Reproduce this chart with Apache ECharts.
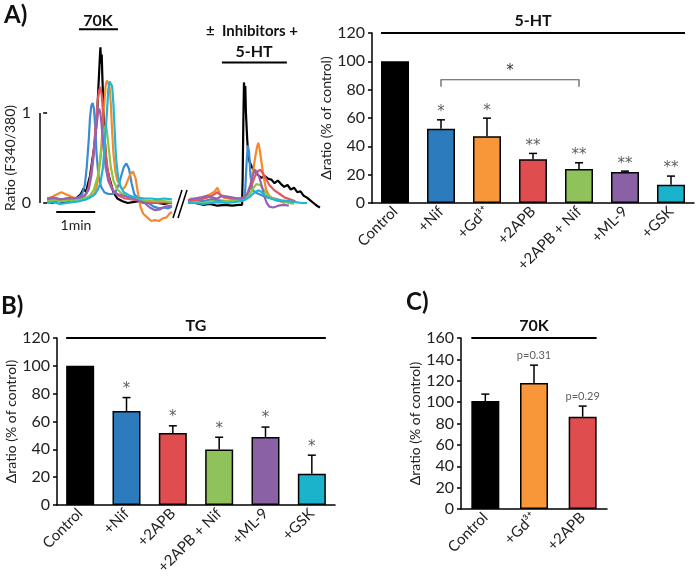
<!DOCTYPE html>
<html><head><meta charset="utf-8">
<script src="https://cdn.jsdelivr.net/npm/echarts@6/dist/echarts.min.js"></script>
<style>html,body{margin:0;padding:0;background:#fff}#c{width:700px;height:577px}</style>
</head><body><div id="c"></div>
<script>
// ---------- Panel A (left): calcium traces, [time s, ratio F340/380] ----------
const blackL = [[0,0.02],[8,0.0],[16,0.03],[24,0.01],[32,0.02],[40,0.04],[46,0.06],[52,0.1],[56,0.16],[60,0.12],[63,0.22],[66,0.3],[69,0.45],[72,0.6],[75,0.8],[77,1.0],[79,1.3],[80,1.45],[81,1.6],[82,1.73],[83,1.55],[84,1.65],[85,1.4],[86,1.2],[88,0.8],[90,0.55],[92,0.4],[95,0.3],[98,0.28],[102,0.12],[108,0.05],[116,0.02],[124,0.0],[132,0.01],[140,0.02],[150,0.0],[160,0.01],[170,0.0],[180,-0.01],[188,0.0],[192,0.0]];
const blueL = [[0,0.03],[10,0.04],[20,0.02],[30,0.05],[40,0.04],[48,0.06],[54,0.1],[58,0.2],[61,0.4],[64,0.7],[66,0.95],[68,1.08],[70,1.11],[72,1.05],[74,0.85],[76,0.55],[79,0.3],[83,0.18],[88,0.12],[94,0.1],[100,0.1],[105,0.12],[110,0.2],[114,0.3],[118,0.4],[122,0.44],[126,0.38],[130,0.22],[134,0.1],[140,0.05],[148,0.02],[156,0.0],[164,-0.04],[172,-0.06],[180,-0.05],[186,-0.06],[192,-0.04]];
const orangeL = [[0,0.05],[8,0.07],[16,0.1],[22,0.12],[28,0.1],[34,0.08],[40,0.06],[48,0.05],[56,0.05],[64,0.06],[70,0.08],[74,0.12],[78,0.25],[82,0.5],[85,0.8],[88,1.1],[90,1.3],[92,1.36],[94,1.38],[96,1.3],[98,1.1],[100,0.8],[102,0.55],[105,0.35],[108,0.25],[112,0.2],[116,0.15],[120,0.18],[124,0.25],[128,0.32],[132,0.35],[136,0.28],[140,0.1],[144,-0.05],[148,-0.12],[154,-0.16],[160,-0.2],[166,-0.19],[172,-0.2],[178,-0.17],[184,-0.16],[188,-0.12],[192,-0.1]];
const redL = [[0,0.03],[12,0.05],[24,0.04],[36,0.06],[46,0.05],[54,0.07],[60,0.1],[64,0.18],[68,0.35],[72,0.6],[75,0.9],[78,1.15],[80,1.25],[82,1.29],[84,1.2],[86,1.0],[88,0.75],[91,0.5],[94,0.32],[98,0.2],[103,0.12],[110,0.08],[120,0.05],[130,0.04],[140,0.03],[150,0.02],[160,0.01],[170,0.0],[180,0.01],[192,0.0]];
const greenL = [[0,0.02],[12,0.03],[24,0.02],[36,0.03],[48,0.04],[58,0.05],[66,0.08],[72,0.15],[78,0.3],[82,0.5],[85,0.7],[88,0.82],[90,0.86],[92,0.8],[95,0.6],[98,0.4],[102,0.25],[108,0.15],[116,0.1],[126,0.06],[136,0.04],[150,0.03],[165,0.02],[180,0.02],[192,0.01]];
const purpleL = [[0,0.05],[10,0.06],[20,0.04],[30,0.05],[40,0.05],[50,0.06],[58,0.08],[64,0.15],[68,0.3],[72,0.55],[75,0.8],[78,0.98],[80,1.05],[82,1.0],[84,0.85],[87,0.6],[90,0.4],[94,0.25],[100,0.15],[108,0.1],[118,0.08],[128,0.06],[140,0.03],[150,0.0],[158,-0.05],[166,-0.08],[174,-0.07],[182,-0.04],[192,-0.03]];
const cyanL = [[0,0.0],[10,0.01],[20,-0.01],[30,0.0],[40,0.01],[50,0.02],[60,0.04],[68,0.07],[74,0.1],[78,0.15],[82,0.22],[86,0.4],[89,0.7],[92,1.0],[94,1.25],[96,1.35],[98,1.36],[100,1.3],[102,1.1],[104,0.8],[106,0.5],[109,0.3],[113,0.18],[118,0.12],[125,0.09],[132,0.07],[140,0.06],[150,0.05],[160,0.05],[170,0.04],[180,0.05],[192,0.04]];

const blackR = [[217,0.0],[228,0.0],[240,-0.02],[250,-0.01],[262,-0.03],[274,-0.02],[285,-0.03],[295,-0.02],[300,-0.02],[301,0.3],[302,0.9],[303,1.34],[304,1.2],[305,1.3],[306,1.0],[308,0.7],[310,0.5],[312,0.45],[315,0.4],[318,0.37],[322,0.33],[326,0.3],[330,0.28],[335,0.3],[340,0.27],[345,0.26],[350,0.22],[355,0.25],[360,0.21],[365,0.18],[370,0.2],[375,0.15],[380,0.17],[385,0.12],[390,0.13],[395,0.08],[400,0.06],[405,0.03],[410,0.0],[415,-0.03],[420,-0.05]];
const blueR = [[217,0.02],[228,0.03],[240,0.02],[252,0.04],[264,0.03],[276,0.02],[288,0.03],[298,0.04],[303,0.05],[305,0.15],[307,0.45],[309,0.64],[311,0.55],[313,0.3],[316,0.15],[320,0.12],[326,0.1],[332,0.08],[340,0.06],[350,0.05],[360,0.03],[370,0.02],[380,0.01]];
const orangeR = [[217,0.03],[222,0.05],[228,0.04],[234,0.06],[240,0.05],[246,0.08],[252,0.1],[258,0.13],[262,0.17],[266,0.1],[272,0.06],[280,0.05],[288,0.04],[296,0.05],[302,0.06],[308,0.1],[313,0.2],[317,0.35],[320,0.5],[323,0.62],[325,0.67],[327,0.6],[330,0.45],[333,0.3],[337,0.15],[342,0.08],[350,0.04],[358,0.02],[366,0.0]];
const redR = [[217,0.02],[226,0.03],[236,0.04],[246,0.06],[254,0.08],[262,0.12],[268,0.08],[276,0.06],[286,0.05],[296,0.05],[304,0.06],[310,0.12],[316,0.22],[320,0.3],[324,0.35],[328,0.37],[332,0.33],[336,0.28],[342,0.2],[350,0.14],[358,0.1],[366,0.06],[374,0.04],[382,0.02]];
const greenR = [[217,0.0],[228,0.01],[240,0.0],[252,0.02],[264,0.01],[276,0.02],[288,0.02],[298,0.03],[306,0.05],[312,0.1],[318,0.17],[322,0.21],[325,0.22],[328,0.2],[332,0.16],[338,0.1],[346,0.05],[354,0.03],[362,0.02],[372,0.0],[380,-0.01]];
const purpleR = [[217,0.03],[226,0.05],[236,0.06],[246,0.08],[254,0.06],[262,0.05],[270,0.08],[278,0.07],[286,0.06],[294,0.05],[302,0.05],[308,0.1],[313,0.2],[317,0.32],[320,0.37],[323,0.35],[326,0.3],[330,0.2],[334,0.08],[338,0.0],[342,-0.04],[348,-0.05],[356,-0.03],[364,-0.02],[372,-0.03]];
const cyanR = [[217,0.0],[228,0.0],[240,-0.01],[252,0.0],[264,0.01],[276,0.0],[288,0.01],[298,0.02],[306,0.04],[312,0.07],[318,0.11],[322,0.13],[326,0.14],[330,0.12],[336,0.08],[344,0.05],[352,0.03],[362,0.02],[372,0.02],[382,0.01],[392,0.0],[400,0.0]];

const traceTickValues = [0, 1];
const scaleBarRatio = [0, 1];
const scaleBarTime = [14, 74];      // 1 min bar (s)
const stim70K = [49, 109];          // s
const stim5HT = [269, 369];         // s

// ---------- Panel A (right) ----------
const catsA = ['Control', '+Nif', '+Gd\u00B3\u207A', '+2APB', '+2APB + Nif', '+ML-9', '+GSK'];
const meanA = [100, 52.4, 47.2, 30.8, 24, 21.8, 12.9];
const errA  = [0, 6.3, 12.7, 4.2, 4.4, 0.7, 6.1];
const starsA = ['', '*', '*', '**', '**', '**', '**'];
const bracketA = {from: 1, to: 4, value: 87, tickValue: 82, label: '*'};

// ---------- Panel B ----------
const catsB = ['Control', '+Nif', '+2APB', '+2APB + Nif', '+ML-9', '+GSK'];
const meanB = [100, 67.5, 51.8, 39.8, 48.9, 22.4];
const errB  = [0, 9.7, 5.1, 8.9, 7.1, 13.4];
const starsB = ['', '*', '*', '*', '*', '*'];

// ---------- Panel C ----------
const catsC = ['Control', '+Gd\u00B3\u207A', '+2APB'];
const meanC = [101, 118, 86.3];
const errC  = [6.5, 16.6, 10];
const pC = ['', 'p=0.31', 'p=0.29'];

const COL = {Control:'#000000', '+Nif':'#2b7bbd', '+Gd\u00B3\u207A':'#f8963a', '+2APB':'#e04d4f',
  '+2APB + Nif':'#8fc25a', '+ML-9':'#8b61a6', '+GSK':'#1ab3cb'};
const TRACE_COL = {black:'#000000', blue:'#3a8ad6', orange:'#f7892b', red:'#e5575a', green:'#8cc63f', purple:'#9563b5', cyan:'#1db7d6'};

const FONT = 'Lato';
const STARFONT = 'DejaVu Sans';
const TXT = '#222';
const chart = echarts.init(document.getElementById('c'));

function traceSeries(name, data, color) {
  return {type:'line', name, data, xAxisIndex:0, yAxisIndex:0, showSymbol:false, symbol:'none',
    lineStyle:{color, width:2.2}, silent:true, animation:false};
}
function barSeries(idx, cats, means) {
  return {type:'bar', xAxisIndex:idx, yAxisIndex:idx, barWidth:28,
    data: means.map((v,i)=>({value:v, itemStyle:{color:COL[cats[i]]}})),
    itemStyle:{borderColor:'#000', borderWidth:1.5}, animation:false, z:2};
}
function errSeries(idx, means, errs) {
  return {type:'custom', xAxisIndex:idx, yAxisIndex:idx, z:3, animation:false,
    data: means.map((m,i)=>[i, m, m+errs[i]]),
    renderItem(params, api) {
      if (api.value(2) - api.value(1) <= 0) return null;
      const a = api.coord([api.value(0), api.value(1)]);
      const b = api.coord([api.value(0), api.value(2)]);
      return {type:'group', children:[
        {type:'line', shape:{x1:a[0], y1:a[1], x2:b[0], y2:b[1]}, style:{stroke:'#000', lineWidth:1.5}},
        {type:'line', shape:{x1:b[0]-4, y1:b[1], x2:b[0]+4, y2:b[1]}, style:{stroke:'#000', lineWidth:1.5}}]};
    }};
}
function starSeries(idx, means, errs, labels, fs, dist, font) {
  return {type:'scatter', xAxisIndex:idx, yAxisIndex:idx, symbolSize:0, animation:false, silent:true,
    data: means.map((m,i)=>({value:[i, m+errs[i]], label:{formatter: labels[i]}})),
    label:{show:true, position:'top', distance:dist, fontSize:fs, color:'#333', fontFamily:font}};
}
function condSeries(idx, n, ymax, text) {
  return {type:'custom', xAxisIndex:idx, yAxisIndex:idx, z:4, animation:false, data:[[0, ymax]],
    renderItem(params, api) {
      const a = api.coord([0, ymax]); const b = api.coord([n-1, ymax]);
      return {type:'group', children:[
        {type:'line', shape:{x1:a[0]-14, y1:a[1], x2:b[0]+14, y2:b[1]}, style:{stroke:'#000', lineWidth:2}},
        {type:'text', x:(a[0]+b[0])/2, y:a[1]-12, style:{text, fontSize:16, fontWeight:'bold', fontFamily:FONT, fill:'#111', align:'center', verticalAlign:'middle'}}]};
    }};
}
function catAxis(idx, cats) {
  return {type:'category', gridIndex:idx, data:cats,
    axisLine:{lineStyle:{color:'#000', width:1.5}}, axisTick:{show:false},
    axisLabel:{rotate:45, interval:0, fontSize:15, color:TXT, fontFamily:FONT, margin:6}};
}
function valAxis(idx, max, gap) {
  return {type:'value', gridIndex:idx, min:0, max, interval:20,
    name:'\u0394ratio (% of control)', nameLocation:'middle', nameGap:gap,
    nameTextStyle:{fontSize:14, color:TXT, fontFamily:FONT},
    axisLine:{show:true, lineStyle:{color:'#000', width:1.5}},
    axisTick:{show:true, length:4, lineStyle:{color:'#000', width:1.5}},
    splitLine:{show:false},
    axisLabel:{fontSize:16, color:TXT, fontFamily:FONT, margin:7}};
}

const option = {
  backgroundColor:'#fff',
  animation:false,
  grid:[
    {left:40, top:23, width:280, height:207},
    {left:372, top:33, width:322, height:170},
    {left:57, top:338, width:278, height:170},
    {left:461, top:338, width:146, height:171}
  ],
  xAxis:[
    {type:'value', gridIndex:0, min:-11, max:420, show:false},
    catAxis(1, catsA), catAxis(2, catsB), catAxis(3, catsC)
  ],
  yAxis:[
    {type:'value', gridIndex:0, min:-0.3, max:2.0, axisLine:{show:false}, splitLine:{show:false},
      axisTick:{show:true, customValues:traceTickValues, length:4, lineStyle:{color:'#000', width:1.5}},
      axisLabel:{customValues:traceTickValues, fontSize:16, color:TXT, fontFamily:FONT, margin:9}},
    valAxis(1, 120, 32), valAxis(2, 120, 35), valAxis(3, 160, 35)
  ],
  series:[
    traceSeries('black', blackL, TRACE_COL.black), traceSeries('black', blackR, TRACE_COL.black),
    traceSeries('blue', blueL, TRACE_COL.blue), traceSeries('blue', blueR, TRACE_COL.blue),
    traceSeries('orange', orangeL, TRACE_COL.orange), traceSeries('orange', orangeR, TRACE_COL.orange),
    traceSeries('red', redL, TRACE_COL.red), traceSeries('red', redR, TRACE_COL.red),
    traceSeries('green', greenL, TRACE_COL.green), traceSeries('green', greenR, TRACE_COL.green),
    traceSeries('purple', purpleL, TRACE_COL.purple), traceSeries('purple', purpleR, TRACE_COL.purple),
    traceSeries('cyan', cyanL, TRACE_COL.cyan), traceSeries('cyan', cyanR, TRACE_COL.cyan),
    // scale bars & stimulus bars
    {type:'line', xAxisIndex:0, yAxisIndex:0, symbol:'none', data:scaleBarRatio.map(v=>[-11, v]), lineStyle:{color:'#000', width:1.5}},
    {type:'line', xAxisIndex:0, yAxisIndex:0, symbol:'none', data:scaleBarTime.map(t=>[t, -0.1]), lineStyle:{color:'#000', width:2}},
    {type:'line', xAxisIndex:0, yAxisIndex:0, symbol:'none', data:stim70K.map(t=>[t, 1.93]), lineStyle:{color:'#000', width:2}},
    {type:'line', xAxisIndex:0, yAxisIndex:0, symbol:'none', data:stim5HT.map(t=>[t, 1.56]), lineStyle:{color:'#000', width:2}},
    // Panel A bars
    barSeries(1, catsA, meanA), errSeries(1, meanA, errA), starSeries(1, meanA, errA, starsA, 15, 0, STARFONT),
    condSeries(1, catsA.length, 120, '5-HT'),
    {type:'custom', xAxisIndex:1, yAxisIndex:1, z:4, data:[[bracketA.from, bracketA.value]],
      renderItem(params, api) {
        const a = api.coord([bracketA.from, bracketA.value]);
        const b = api.coord([bracketA.to, bracketA.value]);
        const t = api.coord([bracketA.from, bracketA.tickValue]);
        return {type:'group', children:[
          {type:'polyline', shape:{points:[[a[0], t[1]], a, b, [b[0], t[1]]]}, style:{stroke:'#555', lineWidth:1.2, fill:null}},
          {type:'text', x:(a[0]+b[0])/2, y:a[1]-9, style:{text:bracketA.label, fontSize:15, fill:'#333', fontFamily:STARFONT, align:'center', verticalAlign:'middle'}}]};
      }},
    // Panel B
    barSeries(2, catsB, meanB), errSeries(2, meanB, errB), starSeries(2, meanB, errB, starsB, 15, 1, STARFONT),
    condSeries(2, catsB.length, 120, 'TG'),
    // Panel C
    barSeries(3, catsC, meanC), errSeries(3, meanC, errC), starSeries(3, meanC, errC, pC, 11, 4, FONT),
    condSeries(3, catsC.length, 160, '70K')
  ],
  graphic:[
    {type:'text', left:4, top:3, style:{text:'A)', fontSize:24, fontWeight:'bold', fontFamily:FONT, fill:'#111'}},
    {type:'text', left:1, top:294, style:{text:'B)', fontSize:24, fontWeight:'bold', fontFamily:FONT, fill:'#111'}},
    {type:'text', left:406, top:290, style:{text:'C)', fontSize:24, fontWeight:'bold', fontFamily:FONT, fill:'#111'}},
    {type:'text', x:98, y:21, style:{text:'70K', fontSize:16, fontWeight:'bold', fontFamily:FONT, fill:'#111', align:'center', verticalAlign:'middle'}},
    {type:'text', x:252, y:31, style:{text:'\u00B1  Inhibitors +', fontSize:15, fontWeight:'bold', fontFamily:FONT, fill:'#111', align:'center', verticalAlign:'middle'}},
    {type:'text', x:254, y:52, style:{text:'5-HT', fontSize:16, fontWeight:'bold', fontFamily:FONT, fill:'#111', align:'center', verticalAlign:'middle'}},
    {type:'text', x:76, y:225, style:{text:'1min', fontSize:14, fontFamily:FONT, fill:TXT, align:'center', verticalAlign:'middle'}},
    {type:'text', x:10, y:158, rotation:Math.PI/2, style:{text:'Ratio (F340/380)', fontSize:14, fontFamily:FONT, fill:TXT, align:'center', verticalAlign:'middle'}},
    {type:'line', shape:{x1:173, y1:218, x2:182, y2:190}, style:{stroke:'#000', lineWidth:1.5}},
    {type:'line', shape:{x1:178, y1:218, x2:187, y2:190}, style:{stroke:'#000', lineWidth:1.5}}
  ]
};
chart.setOption(option);
</script></body></html>
